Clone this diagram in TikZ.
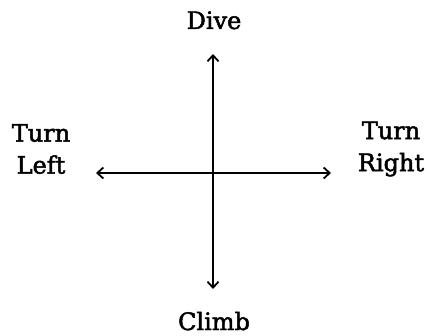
\documentclass[tikz,border=0pt]{standalone}
\usepackage{fontspec}
\setmainfont{DejaVu Serif}
\newfontfamily\lblfont[FakeBold=2]{DejaVu Serif}
\usetikzlibrary{arrows.meta}
\begin{document}
\begin{tikzpicture}[x=1pt,y=-1pt,
  lbl/.style={font=\lblfont\fontsize{24}{32}\selectfont, align=center, inner sep=0pt},
  axis/.style={line width=1.8pt, -{Straight Barb[length=6pt,width=11pt,line width=1.8pt]}}]
\useasboundingbox (0,0) rectangle (430,336);
\coordinate (c) at (213,173);
\coordinate (top) at (213,54);
\coordinate (bot) at (213,289);
\coordinate (lft) at (96,173);
\coordinate (rgt) at (331,173);
\draw[axis] (c) -- (top);
\draw[axis] (c) -- (bot);
\draw[axis] (c) -- (lft);
\draw[axis] (c) -- (rgt);
\node[lbl, anchor=base] (dive) at (214,29) {Dive};
\node[lbl] (left) at (41,149) {Turn\\Left};
\node[lbl] (right) at (391,149) {Turn\\Right};
\node[lbl, anchor=base] (climb) at (214,330) {Climb};
\end{tikzpicture}
\end{document}
